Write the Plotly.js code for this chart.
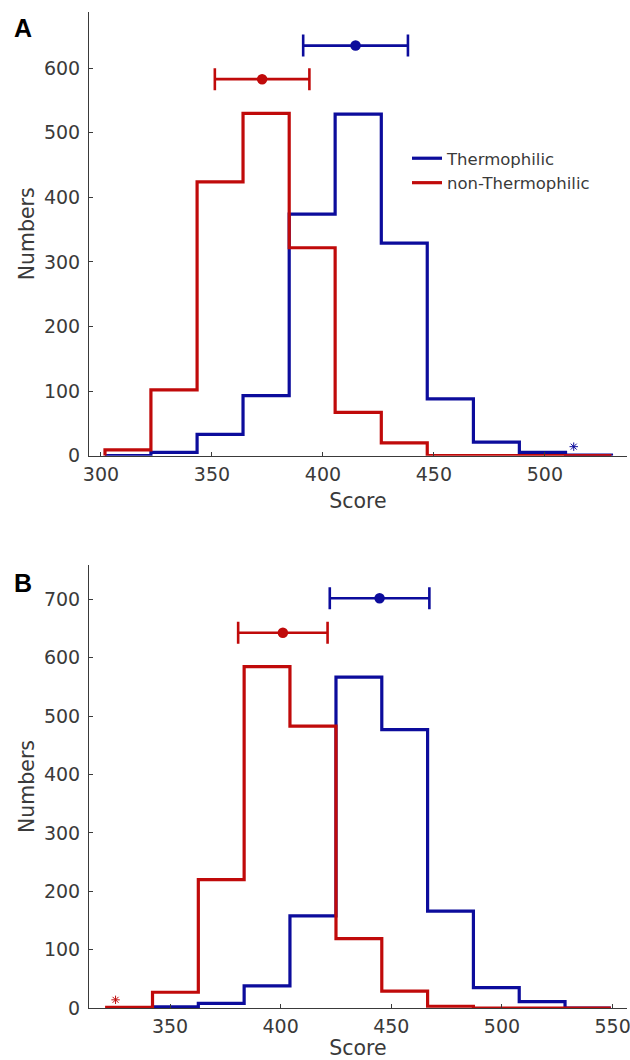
<!DOCTYPE html>
<html>
<head>
<meta charset="utf-8">
<script src="https://cdn.plot.ly/plotly-3.0.1.min.js"></script>
<style>html,body{margin:0;padding:0;background:#fff;}#chart{width:630px;height:1060px;}</style>
</head>
<body>
<div id="chart"></div>
<script>
// ---- Data ----
const seriesNames = ["Thermophilic", "non-Thermophilic"];

// Panel A
const edgesA = [301.8, 322.5, 343.3, 364.0, 384.8, 405.5, 426.3, 447.0, 467.8, 488.5, 509.3, 530.0];
const thermoA = [0, 5, 33, 93, 374, 529, 329, 88, 21, 5, 1];
const nonThermoA = [9, 102, 424, 530, 322, 67, 20, 0, 0, 0, 0];
const meanA = [414.7, 372.6];      // thermo, non-thermo
const sdA = [23.6, 21.3];
const errYA = [635, 583];
const starA = [513, 14];            // x, y (thermo outlier marker)
const xTicksA = [300, 350, 400, 450, 500];
const yTicksA = [0, 100, 200, 300, 400, 500, 600];

// Panel B
const edgesB = [321.4, 342.1, 362.8, 383.5, 404.2, 425.0, 445.7, 466.4, 487.1, 507.8, 528.5, 549.2];
const thermoB = [0, 2, 8, 38, 158, 567, 477, 166, 35, 11, 0];
const nonThermoB = [1, 27, 220, 585, 483, 119, 29, 3, 0, 0, 0];
const meanB = [444.7, 401.0];
const sdB = [22.5, 20.2];
const errYB = [702, 643];
const starB = [325.4, 14];          // x, y (non-thermo outlier marker)
const xTicksB = [350, 400, 450, 500, 550];
const yTicksB = [0, 100, 200, 300, 400, 500, 600, 700];

// ---- Styling ----
const BLUE = "#0c0c9c";
const RED = "#c00a0a";
const AX = "#3a3a3a";
const FONT = "DejaVu Sans";

function stairs(edges, counts) {
  const x = [edges[0]].concat(edges);
  const y = [0].concat(counts).concat([0]);
  return {x: x, y: y};
}

function histTrace(edges, counts, color, name, xa, ya, showleg) {
  const s = stairs(edges, counts);
  return {x: s.x, y: s.y, type: "scatter", mode: "lines", line: {shape: "hv", color: color, width: 3.2},
    name: name, xaxis: xa, yaxis: ya, showlegend: showleg, hoverinfo: "skip"};
}

function errTrace(mean, sd, y, color, xa, ya) {
  return {x: [mean], y: [y], type: "scatter", mode: "markers",
    marker: {color: color, size: 10.5},
    error_x: {type: "data", array: [sd], color: color, thickness: 2.6, width: 11},
    xaxis: xa, yaxis: ya, showlegend: false, hoverinfo: "skip"};
}

function starTrace(pt, color, xa, ya) {
  return {x: [pt[0]], y: [pt[1]], type: "scatter", mode: "markers",
    marker: {symbol: "asterisk-open", size: 7, line: {color: color, width: 1}, color: color},
    xaxis: xa, yaxis: ya, showlegend: false, hoverinfo: "skip"};
}

const traces = [
  histTrace(edgesA, thermoA, BLUE, seriesNames[0], "x", "y", true),
  histTrace(edgesA, nonThermoA, RED, seriesNames[1], "x", "y", true),
  errTrace(meanA[0], sdA[0], errYA[0], BLUE, "x", "y"),
  errTrace(meanA[1], sdA[1], errYA[1], RED, "x", "y"),
  starTrace(starA, BLUE, "x", "y"),
  histTrace(edgesB, thermoB, BLUE, seriesNames[0], "x2", "y2", false),
  histTrace(edgesB, nonThermoB, RED, seriesNames[1], "x2", "y2", false),
  errTrace(meanB[0], sdB[0], errYB[0], BLUE, "x2", "y2"),
  errTrace(meanB[1], sdB[1], errYB[1], RED, "x2", "y2"),
  starTrace(starB, RED, "x2", "y2")
];

const W = 630, H = 1060;
const tickFont = {family: FONT, size: 19, color: AX};
const titleFont = {family: FONT, size: 20.5, color: AX};

function xAxis(range, ticks, anchor, title) {
  return {range: range, domain: [89 / W, 627 / W], anchor: anchor, tickvals: ticks, ticktext: ticks.map(String),
    showline: true, linecolor: AX, linewidth: 1, ticks: "inside", ticklen: 4, tickcolor: AX,
    showgrid: false, zeroline: false, tickfont: tickFont, fixedrange: true, ticklabeloverflow: "allow",
    ticklabelstandoff: 1,
    title: {text: title, font: titleFont, standoff: 10}};
}
function yAxis(range, ticks, domainPx, anchor, title) {
  return {range: range, domain: [1 - domainPx[1] / H, 1 - domainPx[0] / H], anchor: anchor,
    tickvals: ticks, ticktext: ticks.map(String),
    showline: true, linecolor: AX, linewidth: 1, ticks: "inside", ticklen: 4, tickcolor: AX,
    showgrid: false, zeroline: false, tickfont: tickFont, fixedrange: true, ticklabeloverflow: "allow",
    ticklabelstandoff: 4,
    title: {text: title, font: titleFont, standoff: 3}};
}

const layout = {
  width: W, height: H,
  margin: {l: 0, r: 0, t: 0, b: 0},
  paper_bgcolor: "#fff", plot_bgcolor: "#fff",
  font: {family: FONT, color: AX},
  showlegend: true,
  legend: {x: 407 / W, y: 1 - 141 / H, xanchor: "left", yanchor: "top",
    bgcolor: "rgba(0,0,0,0)", borderwidth: 0, font: {family: FONT, size: 16.5, color: AX},
    tracegroupgap: 0},
  xaxis: xAxis([294.6, 537], xTicksA, "y", "Score"),
  yaxis: yAxis([0, 687], yTicksA, [12, 455.7], "x", "Numbers"),
  xaxis2: xAxis([313.4, 556.5], xTicksB, "y2", "Score"),
  yaxis2: yAxis([0, 759], yTicksB, [565, 1008], "x2", "Numbers"),
  annotations: [
    {text: "<b>A</b>", xref: "paper", yref: "paper", x: 23 / W, y: 1 - 28 / H, xanchor: "center", yanchor: "middle",
     showarrow: false, font: {family: "Liberation Sans", size: 25, color: "#000"}},
    {text: "<b>B</b>", xref: "paper", yref: "paper", x: 23 / W, y: 1 - 583 / H, xanchor: "center", yanchor: "middle",
     showarrow: false, font: {family: "Liberation Sans", size: 25, color: "#000"}}
  ]
};

Plotly.newPlot("chart", traces, layout, {staticPlot: true, displayModeBar: false});
</script>
</body>
</html>
